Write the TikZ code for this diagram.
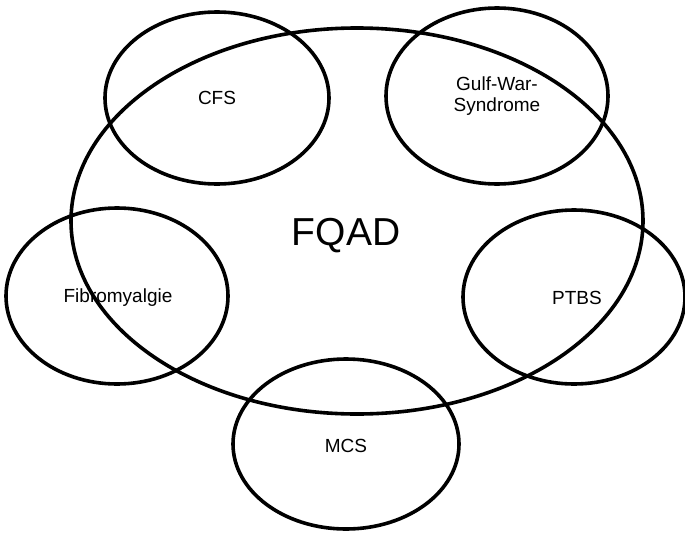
\documentclass[tikz,border=0pt]{standalone}
\usepackage{fontspec}
\setmainfont{Liberation Sans}
\usetikzlibrary{shapes.geometric}
\begin{document}
\begin{tikzpicture}[x=1pt,y=-1pt,
  set/.style={draw=black, line width=3.6pt, ellipse, inner sep=0pt, align=center,
    font=\fontsize{19}{21}\selectfont},
  big/.style={font=\fontsize{39}{42}\selectfont}]
\useasboundingbox (0,0) rectangle (685,533);
\node[set, minimum width=572pt, minimum height=386pt] (fqad) at (357,221) {};
\node[big] (fqadlabel) at (346,236) {FQAD};
\node[set, minimum width=224pt, minimum height=172pt] (cfs) at (217,98) {CFS};
\node[set, minimum width=222pt, minimum height=176pt] (gws) at (497,96) {Gulf-War-\\Syndrome};
\node[set, minimum width=222pt, minimum height=176pt] (fib) at (117,296) {};
\node[font=\fontsize{19}{21}\selectfont] (fiblabel) at (118,298) {Fibromyalgie};
\node[set, minimum width=222pt, minimum height=174pt] (ptbs) at (574,297) {};
\node[font=\fontsize{19}{21}\selectfont] (ptbslabel) at (577,298) {PTBS};
\node[set, minimum width=226pt, minimum height=170pt] (mcs) at (346,444) {};
\node[font=\fontsize{19}{21}\selectfont] (mcslabel) at (346,446) {MCS};
\end{tikzpicture}
\end{document}
